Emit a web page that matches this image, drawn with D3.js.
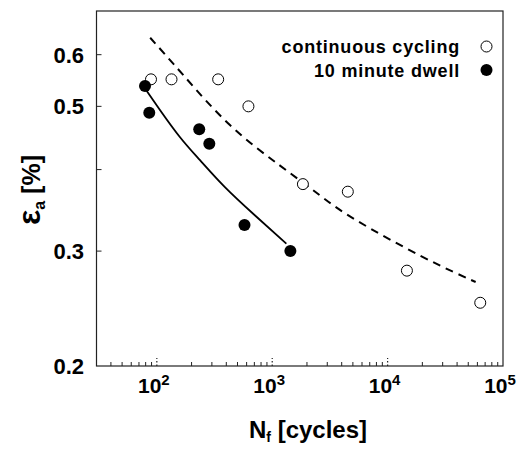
<!DOCTYPE html>
<html><head><meta charset="utf-8">
<script src="https://cdn.jsdelivr.net/npm/d3@7"></script>
<style>body{margin:0;background:#fff}svg text{font-family:"Liberation Sans",Arial,sans-serif;font-weight:bold;fill:#000}</style>
</head><body><svg id="c" width="523" height="451"></svg>
<script>
const seriesNames = ["continuous cycling", "10 minute dwell"];
const continuousN = [89, 134, 340, 622, 1845, 4520, 14700, 63500];
const continuousE = [0.55, 0.55, 0.55, 0.50, 0.380, 0.370, 0.280, 0.250];
const dwellN = [79, 86, 233, 285, 575, 1436];
const dwellE = [0.537, 0.489, 0.461, 0.438, 0.329, 0.300];
const fitContN = [87.6, 170, 430, 1161, 2574, 5336, 20060, 57940];
const fitContE = [0.637, 0.558, 0.468, 0.406, 0.3655, 0.3346, 0.294, 0.269];
const fitDwellN = [79.3, 106.8, 158.9, 236.6, 388.9, 706.2, 1327];
const fitDwellE = [0.532, 0.4933, 0.4484, 0.4135, 0.376, 0.3405, 0.308];
const yTicks = [0.2, 0.3, 0.4, 0.5, 0.6];
const yTickLabels = ["0.2", "0.3", "", "0.5", "0.6"];
const xMajor = [100, 1000, 10000, 100000];
const xMajorExp = ["2", "3", "4", "5"];

const svg = d3.select("#c");
const L = 96.5, R = 503, T = 11, B = 366;
const x = d3.scaleLog().domain([30, 100000]).range([L, R]);
const y = d3.scaleLog().domain([0.2, 0.7]).range([B, T]);

// frame
svg.append("rect").attr("x", L).attr("y", T).attr("width", R - L).attr("height", B - T)
  .attr("fill", "none").attr("stroke", "#222").attr("stroke-width", 1.2);

// x minor ticks
const minor = [];
for (let d = 10; d <= 10000; d *= 10) for (let m = 2; m <= 9; m++) { const v = m * d; if (v >= 40 && v < 100000) minor.push(v); }
svg.append("g").selectAll("line").data(minor).join("line")
  .attr("x1", d => x(d)).attr("x2", d => x(d)).attr("y1", B).attr("y2", B - 4)
  .attr("stroke", "#222").attr("stroke-width", 1);
svg.append("g").selectAll("line").data(xMajor.slice(0, 3)).join("line")
  .attr("x1", d => x(d)).attr("x2", d => x(d)).attr("y1", B).attr("y2", B - 8)
  .attr("stroke", "#222").attr("stroke-width", 1.2).attr("stroke-dasharray", "1.5,2");

// x labels
const xl = svg.append("g").selectAll("text").data(xMajor).join("text")
  .attr("x", d => x(d) - 3).attr("y", 393).attr("text-anchor", "middle").attr("font-size", 21);
xl.append("tspan").text("10");
xl.append("tspan").attr("font-size", 15).attr("dy", -8).text((d, i) => xMajorExp[i]);

// y ticks
svg.append("g").selectAll("line").data(yTicks.slice(1)).join("line")
  .attr("x1", L).attr("x2", L + 5).attr("y1", d => y(d)).attr("y2", d => y(d))
  .attr("stroke", "#222").attr("stroke-width", 1);
svg.append("g").selectAll("text").data(yTicks).join("text")
  .attr("x", 84).attr("y", d => y(d) + 8).attr("text-anchor", "end").attr("font-size", 22)
  .text((d, i) => yTickLabels[i]);

// fits
const line = d3.line().x(d => x(d[0])).y(d => y(d[1])).curve(d3.curveNatural);
svg.append("path").attr("d", line(fitContN.map((n, i) => [n, fitContE[i]])))
  .attr("fill", "none").attr("stroke", "#000").attr("stroke-width", 2).attr("stroke-dasharray", "8,6");
svg.append("path").attr("d", line(fitDwellN.map((n, i) => [n, fitDwellE[i]])))
  .attr("fill", "none").attr("stroke", "#000").attr("stroke-width", 1.8);

// points
svg.append("g").selectAll("circle").data(continuousN).join("circle")
  .attr("cx", d => x(d)).attr("cy", (d, i) => y(continuousE[i])).attr("r", 5.5)
  .attr("fill", "#fff").attr("stroke", "#000").attr("stroke-width", 1);
svg.append("g").selectAll("circle").data(dwellN).join("circle")
  .attr("cx", d => x(d)).attr("cy", (d, i) => y(dwellE[i])).attr("r", 6)
  .attr("fill", "#000");

// legend
svg.append("text").attr("x", 460).attr("y", 53).attr("text-anchor", "end").attr("font-size", 18).attr("letter-spacing", 0.8).text(seriesNames[0]);
svg.append("text").attr("x", 460).attr("y", 77).attr("text-anchor", "end").attr("font-size", 18).attr("letter-spacing", 0.8).text(seriesNames[1]);
svg.append("circle").attr("cx", 486.5).attr("cy", 46.5).attr("r", 5.5).attr("fill", "#fff").attr("stroke", "#000");
svg.append("circle").attr("cx", 486.5).attr("cy", 70).attr("r", 6).attr("fill", "#000");

// axis titles
const xt = svg.append("text").attr("x", 308).attr("y", 438).attr("text-anchor", "middle").attr("font-size", 24);
xt.append("tspan").text("N");
xt.append("tspan").attr("font-size", 14).attr("dy", 4).text("f");
xt.append("tspan").attr("dy", -4).text(" [cycles]");
const yt = svg.append("text").attr("transform", "translate(40,190) rotate(-90)").attr("text-anchor", "middle").attr("font-size", 25);
yt.append("tspan").attr("font-size", 32).text("ε");
yt.append("tspan").attr("font-size", 16).attr("dy", 5).text("a");
yt.append("tspan").attr("dy", -5).text(" [%]");
</script></body></html>
